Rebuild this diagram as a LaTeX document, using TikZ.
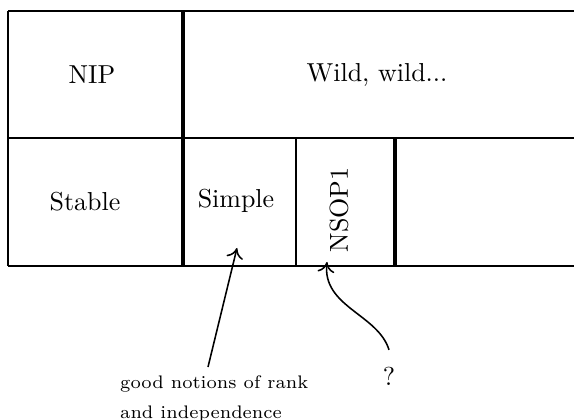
\documentclass[tikz,border=0pt]{standalone}
\usetikzlibrary{positioning,arrows.meta}

\begin{document}
\begin{tikzpicture}[x=0.385pt,y=0.385pt,
  >={Computer Modern Rightarrow[length=4pt,width=6.5pt]}]
\useasboundingbox (0,0) rectangle (574,419);

% grid of classes
\draw[thick] (8,408) -- (574,408);
\draw[thick] (8,281) -- (574,281);
\draw[thick] (8,153) -- (574,153);
\draw[semithick] (8,408) -- (8,153);
\draw[line width=1.4pt] (183,408) -- (183,153);
\draw[semithick] (296,281) -- (296,153);
\draw[line width=1.4pt] (395,281) -- (395,153);

% labels
\node (nip) at (92,344) {NIP};
\node (wild) at (377,344) {Wild, wild...};
\node (stable) at (85,217) {Stable};
\node (simple) at (236,218) {Simple};
\node[rotate=90] (nsop) at (339,209) {NSOP1};

\coordinate (simpletip) at (237,171);
\coordinate (nsoptip) at (327,157);

\node[font=\scriptsize,align=left,anchor=north west] (good) at (111,52)
  {good notions of rank\\[3.5pt]and independence};
\node (ques) at (389,43) {?};

% arrows
\draw[->,semithick] (good.north -| 208,0) -- (simpletip);
\draw[->,semithick] ([yshift=3pt]ques.north) .. controls (378,105) and (322,112) .. (nsoptip);
\end{tikzpicture}
\end{document}
